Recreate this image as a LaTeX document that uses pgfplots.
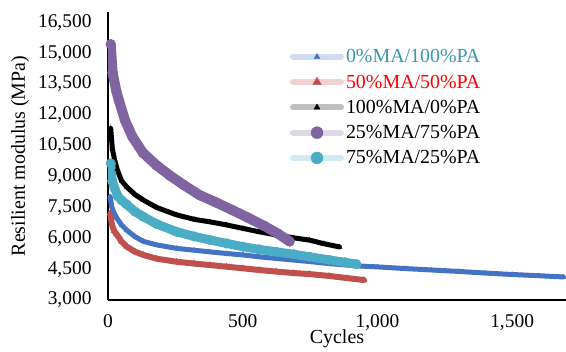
\documentclass[border=0pt]{standalone}
\usepackage{pgfplots}
\pgfplotsset{compat=1.18}
\usepackage{fontspec}
\setmainfont{Liberation Serif}
\definecolor{cblue}{HTML}{4472C4}
\definecolor{cred}{HTML}{C0504D}
\definecolor{cpurple}{HTML}{8064A2}
\definecolor{cteal}{HTML}{4BACC6}
\definecolor{legteal}{RGB}{60,150,175}
\definecolor{legred}{HTML}{FF0000}
\pgfplotsset{
  myleg/.style n args={3}{legend image code/.code={%
    \draw[#1!25, line width=6bp] (0bp,0bp) -- (48bp,0bp);
    \draw[#1, fill=#1, mark size=#3] plot[mark=#2] coordinates {(24bp,0bp)};}}
}
\begin{document}
\begin{tikzpicture}
\begin{axis}[
  scale only axis, width=458bp, height=288bp,
  at={(0,0)}, anchor=south west,
  xmin=0, xmax=1700, ymin=3000, ymax=17000,
  xtick={0,500,1000,1500},
  ytick={3000,4500,6000,7500,9000,10500,12000,13500,15000,16500},
  scaled x ticks=false, scaled y ticks=false,
  /pgf/number format/1000 sep={,},
  /pgf/number format/assume math mode=true,
  axis lines*=left, axis line style={-, black, line width=1.2bp},
  major tick length=0pt,
  font=\fontsize{20}{23}\selectfont,
  ticklabel style={font=\fontsize{19.5}{22}\selectfont},
  yticklabel style={xshift=-13bp},
  xticklabel style={yshift=-11bp},
  xlabel={Cycles}, ylabel={Resilient modulus (MPa)},
  xlabel style={yshift=8bp},
  ylabel style={yshift=2bp},
  clip=true,
  legend cell align=left,
  legend style={draw=none, fill=none, at={(0.397,0.877)}, anchor=north west,
    font=\fontsize{20}{23}\selectfont, row sep=6.5bp, inner sep=0pt,
    /tikz/every even column/.append style={column sep=3bp}},
]
% 0%MA/100%PA
\addplot[color=cblue, line width=5bp, line join=round, line cap=round,
  mark=triangle*, mark size=2.8bp, mark options={line width=0.4bp, fill=cblue},
  myleg={cblue}{triangle*}{3.5bp}] coordinates {
(8,8020) (14,7530) (22,7250) (32,7000) (50,6650) (69,6400) (100,6080) (131,5850)
(180,5680) (254,5510) (320,5420) (378,5340) (440,5260) (501,5190) (560,5100)
(625,5020) (690,4940) (748,4870) (820,4770) (922,4660) (1000,4610) (1100,4530)
(1200,4460) (1300,4390) (1400,4310) (1500,4240) (1600,4180) (1690,4120)};
\addlegendentry{\textcolor{legteal}{0\%MA/100\%PA}}
% 50%MA/50%PA
\addplot[color=cred, line width=6bp, line join=round, line cap=round,
  mark=triangle*, mark size=3.5bp, mark options={line width=0.4bp, fill=cred},
  myleg={cred}{triangle*}{5bp}] coordinates {
(8,7210) (14,6700) (23,6350) (32,6200) (50,5850) (69,5600) (100,5350) (131,5190)
(180,5010) (254,4860) (320,4770) (378,4700) (440,4620) (501,4540) (560,4460)
(625,4380) (690,4310) (748,4260) (820,4170) (890,4060) (950,3970)};
\addlegendentry{\textcolor{legred}{50\%MA/50\%PA}}
% 100%MA/0%PA
\addplot[color=black, line width=5bp, line join=round, line cap=round,
  mark=triangle*, mark size=2.8bp, mark options={line width=0.4bp, fill=black},
  myleg={black}{triangle*}{3.5bp}] coordinates {
(10,11340) (16,10370) (24,9850) (34,9350) (50,8800) (69,8500) (100,8130) (131,7860)
(180,7500) (254,7140) (320,6920) (378,6800) (440,6650) (501,6480) (560,6320)
(625,6160) (690,6020) (748,5910) (800,5740) (859,5580)};
\addlegendentry{100\%MA/0\%PA}
% 25%MA/75%PA
\addplot[color=cpurple, line width=10bp, line join=round, line cap=round,
  mark=*, mark size=5bp, mark options={line width=0.4bp, fill=cpurple},
  myleg={cpurple}{*}{6bp}] coordinates {
(10,15430) (17,14060) (30,13200) (41,12680) (63,11740) (90,10950) (130,10150)
(180,9550) (230,9050) (280,8600) (340,8100) (400,7750) (460,7380) (520,7000)
(580,6600) (630,6230) (674,5850)};
\addlegendentry{25\%MA/75\%PA}
% 75%MA/25%PA
\addplot[color=cteal, line width=9bp, line join=round, line cap=round,
  mark=*, mark size=4.8bp, mark options={line width=0.4bp, fill=cteal},
  myleg={cteal}{*}{6bp}] coordinates {
(10,9640) (16,8790) (24,8450) (36,8050) (50,7850) (69,7650) (100,7300) (131,7050)
(180,6700) (254,6320) (320,6090) (378,5920) (440,5750) (501,5590) (560,5460)
(625,5340) (690,5220) (748,5100) (820,4950) (880,4830) (922,4740)};
\addlegendentry{75\%MA/25\%PA}
\end{axis}
\pgfresetboundingbox
\path[use as bounding box] (-108bp,-52bp) rectangle (458bp,300bp);
\end{tikzpicture}
\end{document}
